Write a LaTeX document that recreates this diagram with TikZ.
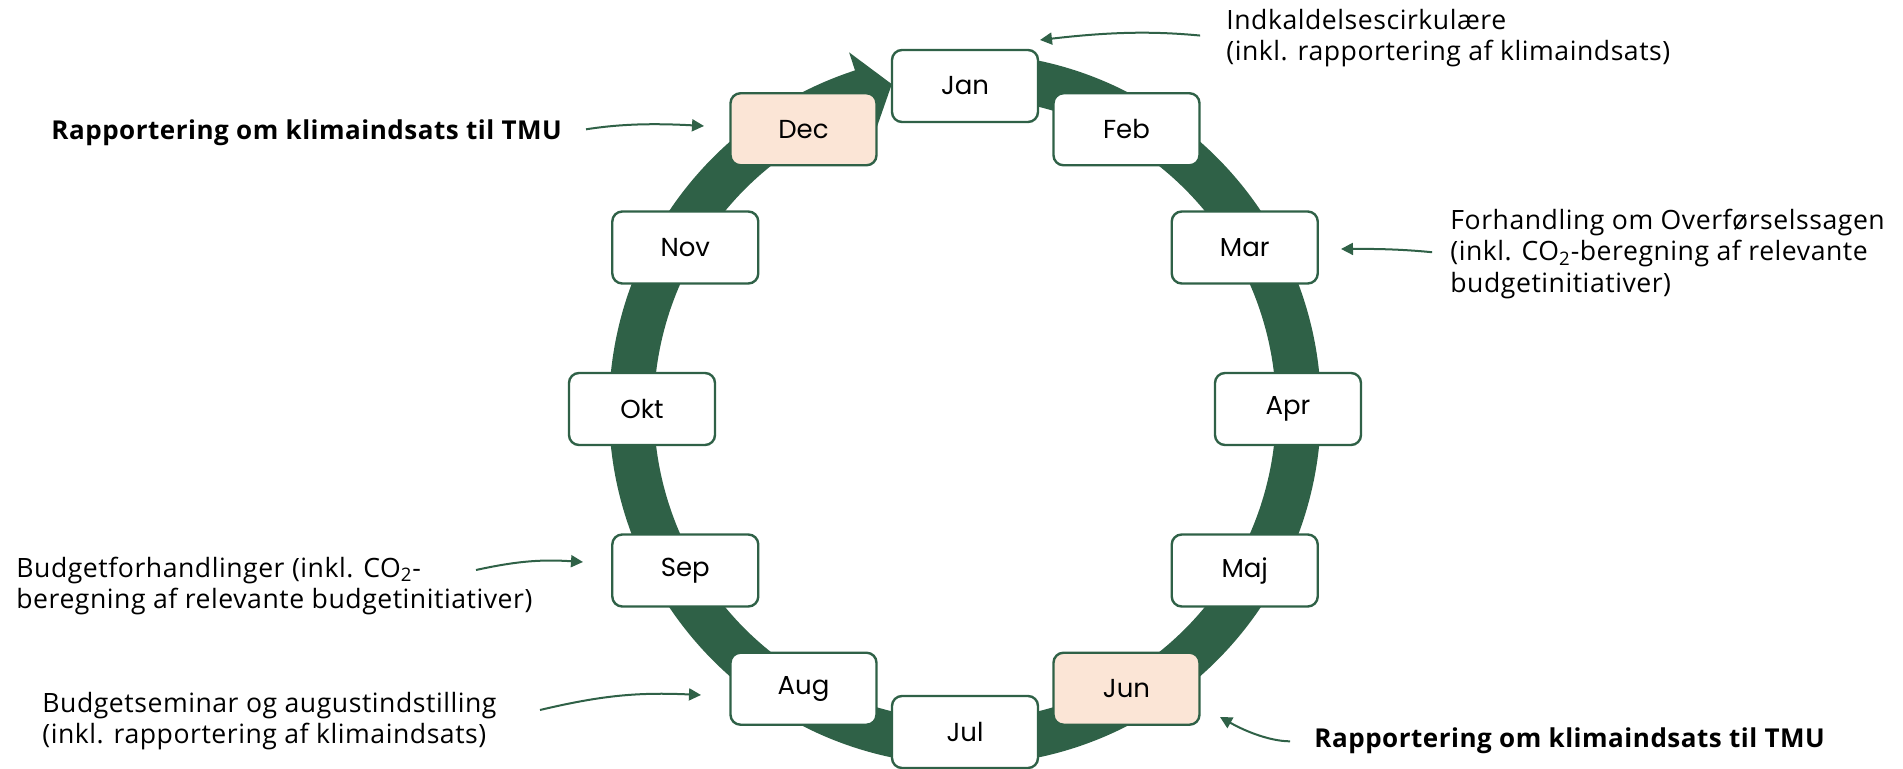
\documentclass[tikz,border=0pt]{standalone}
\usepackage{fontspec}
\setmainfont{Open Sans}[LetterSpace=2]
\newfontfamily\monthfont{Poppins}
\usetikzlibrary{arrows.meta}

\definecolor{cyclegreen}{RGB}{47,97,71}
\definecolor{peach}{RGB}{251,229,214}

\begin{document}
\begin{tikzpicture}[
                x=0.5pt, y=0.5pt,
                month/.style={rectangle, draw=cyclegreen, line width=1.2pt, fill=white, rounded corners=5pt,
                              minimum width=73pt, minimum height=36pt, font=\monthfont\fontsize{13}{15}\selectfont},
                report/.style={month, fill=peach},
                note/.style={inner sep=0pt, align=left, font=\fontsize{13.3}{15.8}\selectfont},
                boldnote/.style={note, font=\bfseries\fontsize{13}{15}\selectfont},
                pointer/.style={-{Triangle[length=6pt,width=6pt]}, line width=1pt, draw=cyclegreen}
            ]
                \useasboundingbox (0,0) rectangle (1903,-769);

                % year cycle
                \begin{scope}[shift={(965,-409)}]
                \fill[cyclegreen] (88:356) arc[start angle=88, end angle=-252, radius=356]
                    -- (-252:375) -- (-257.3:333) -- (-252:291) -- (-252:311)
                    arc[start angle=-252, end angle=88, radius=311] -- cycle;

                \node[month]  (jan) at (90:323)  {Jan};
                \node[month]  (feb) at (60:323)  {Feb};
                \node[month]  (mar) at (30:323)  {Mar};
                \node[month]  (apr) at (0:323)   {Apr};
                \node[month]  (maj) at (-30:323) {Maj};
                \node[report] (jun) at (-60:323) {Jun};
                \node[month]  (jul) at (-90:323) {Jul};
                \node[month]  (aug) at (-120:323) {Aug};
                \node[month]  (sep) at (-150:323) {Sep};
                \node[month]  (okt) at (180:323) {Okt};
                \node[month]  (nov) at (150:323) {Nov};
                \node[report] (dec) at (120:323) {Dec};
                \end{scope}

                % notes
                \node[note, anchor=west] (indkald) at (1226,-38) {Indkaldelsescirkulære\\(inkl. rapportering af klimaindsats)};
                \node[boldnote, anchor=west] (tmudec) at (51,-133) {Rapportering om klimaindsats til TMU};
                \node[note, anchor=west] (overfoer) at (1450,-254) {Forhandling om Overførselssagen\\(inkl. CO\textsubscript{2}-beregning af relevante\\budgetinitiativer)};
                \node[note, anchor=west] (budgetforh) at (16,-586) {Budgetforhandlinger (inkl. CO\textsubscript{2}-\\beregning af relevante budgetinitiativer)};
                \node[note, anchor=west] (seminar) at (42,-721) {Budgetseminar og augustindstilling\\(inkl. rapportering af klimaindsats)};
                \node[boldnote, anchor=west] (tmujun) at (1314,-741) {Rapportering om klimaindsats til TMU};

                \coordinate (to-jan) at (1040,-40);
                \coordinate (to-dec) at (704,-126);
                \coordinate (to-mar) at (1341,-249);
                \coordinate (to-sep) at (583,-562);
                \coordinate (to-aug) at (701,-695);
                \coordinate (to-jun) at (1220,-717);
                \coordinate (from-sep) at (476,-570);
                \coordinate (from-aug) at (540,-710);

                \draw[pointer, shorten <=13pt] (indkald.west) to[bend right=6] (to-jan);
                \draw[pointer, shorten <=12pt] (tmudec.east) to[bend left=6] (to-dec);
                \draw[pointer, shorten <=9pt] (overfoer.west) to[bend right=3] (to-mar);
                \draw[pointer] (from-sep) to[bend left=8] (to-sep);
                \draw[pointer] (from-aug) to[bend left=8] (to-aug);
                \draw[pointer, shorten <=12pt] (tmujun.west) to[bend left=15] (to-jun);
            \end{tikzpicture}
\end{document}
